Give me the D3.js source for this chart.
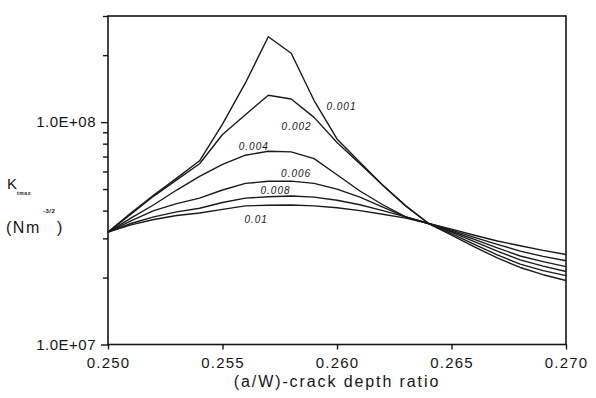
<!DOCTYPE html>
<html>
<head>
<meta charset="utf-8">
<script src="https://d3js.org/d3.v7.min.js"></script>
<style>
  body { margin: 0; background: #fff; }
  text { font-family: "Liberation Sans", Arial, sans-serif; fill: #161616; }
</style>
</head>
<body>
<div id="chart"></div>
<script>
// crack depth ratio (a/W) where the curves are sampled
var ratio = [0.250, 0.251, 0.252, 0.253, 0.254, 0.255, 0.256, 0.257, 0.258, 0.259, 0.260,
             0.261, 0.262, 0.263, 0.264, 0.265, 0.266, 0.267, 0.268, 0.269, 0.270];

// K tmax (Nm^-3/2), one array per curve
var k001 = [3.2e7, 3.9e7, 4.7e7, 5.6e7, 6.7e7, 9.8e7, 1.5e8, 2.42e8, 2.04e8, 1.25e8, 8.4e7,
            6.6e7, 5.2e7, 4.2e7, 3.5e7, 3.1e7, 2.75e7, 2.45e7, 2.22e7, 2.06e7, 1.94e7];
var k002 = [3.2e7, 3.85e7, 4.65e7, 5.5e7, 6.5e7, 8.8e7, 1.08e8, 1.32e8, 1.27e8, 1.05e8, 8.1e7,
            6.5e7, 5.2e7, 4.2e7, 3.5e7, 3.15e7, 2.82e7, 2.53e7, 2.3e7, 2.15e7, 2.04e7];
var k004 = [3.2e7, 3.7e7, 4.25e7, 4.95e7, 5.7e7, 6.45e7, 7.1e7, 7.4e7, 7.35e7, 6.85e7, 5.8e7,
            4.9e7, 4.25e7, 3.75e7, 3.5e7, 3.2e7, 2.9e7, 2.63e7, 2.4e7, 2.25e7, 2.13e7];
var k006 = [3.2e7, 3.6e7, 4.0e7, 4.3e7, 4.55e7, 4.95e7, 5.3e7, 5.42e7, 5.43e7, 5.3e7, 5.0e7,
            4.6e7, 4.15e7, 3.75e7, 3.5e7, 3.23e7, 2.97e7, 2.72e7, 2.5e7, 2.36e7, 2.24e7];
var k008 = [3.2e7, 3.5e7, 3.75e7, 3.95e7, 4.1e7, 4.35e7, 4.55e7, 4.62e7, 4.65e7, 4.6e7, 4.45e7,
            4.25e7, 4.0e7, 3.75e7, 3.5e7, 3.27e7, 3.03e7, 2.82e7, 2.63e7, 2.49e7, 2.38e7];
var k010 = [3.2e7, 3.45e7, 3.65e7, 3.8e7, 3.9e7, 4.05e7, 4.2e7, 4.23e7, 4.24e7, 4.2e7, 4.12e7,
            4.0e7, 3.85e7, 3.7e7, 3.5e7, 3.3e7, 3.1e7, 2.92e7, 2.78e7, 2.65e7, 2.54e7];

// curve labels and where they sit (data coords, left end of baseline)
var curveNames = ["0.001", "0.002", "0.004", "0.006", "0.008", "0.01"];
var labelX = [0.25954, 0.25758, 0.25571, 0.25756, 0.25666, 0.25596];
var labelY = [1.13e8, 9.2e7, 7.5e7, 5.69e7, 4.74e7, 3.53e7];

var xTicks = [0.250, 0.255, 0.260, 0.265, 0.270];
var yTicks = [1e7, 2e7, 3e7, 4e7, 5e7, 6e7, 7e7, 8e7, 9e7, 1e8, 2e8, 3e8];

var curves = [k001, k002, k004, k006, k008, k010];

// set the dimensions and margins of the graph
var margin = {top: 16, right: 30, bottom: 53.5, left: 108},
    width = 596 - margin.left - margin.right,
    height = 398 - margin.top - margin.bottom;

var root = d3.select("#chart")
  .append("svg")
    .attr("width", 596)
    .attr("height", 398);

var svg = root.append("g")
    .attr("transform", "translate(" + margin.left + "," + margin.top + ")");

var x = d3.scaleLinear()
    .domain([0.250, 0.270])
    .range([0, width]);

var y = d3.scaleLog()
    .domain([1e7, 3e8])
    .range([height, 0]);

function isDecade(d) {
  var e = Math.log10(d);
  return Math.abs(e - Math.round(e)) < 1e-9;
}

// y axis, log ticks, labels only on decades
var yAxis = svg.append("g")
    .call(d3.axisLeft(y)
      .tickValues(yTicks)
      .tickSize(5)
      .tickSizeOuter(0)
      .tickFormat(function(d) {
        return isDecade(d) ? "1.0E+0" + Math.round(Math.log10(d)) : "";
      }));
yAxis.select(".domain").remove();
yAxis.selectAll(".tick line")
    .attr("stroke", "#161616")
    .attr("stroke-width", 1.4)
    .attr("x2", function(d) { return isDecade(d) ? -7 : -5; });
yAxis.selectAll(".tick text")
    .attr("x", -12)
    .style("font-size", "15px")
    .style("letter-spacing", "0.5px");

// x axis
var xAxis = svg.append("g")
    .attr("transform", "translate(0," + height + ")")
    .call(d3.axisBottom(x)
      .tickValues(xTicks)
      .tickSize(5)
      .tickSizeOuter(0)
      .tickFormat(d3.format(".3f")));
xAxis.select(".domain").remove();
xAxis.selectAll(".tick line")
    .attr("stroke", "#161616")
    .attr("stroke-width", 1.4);
xAxis.selectAll(".tick text")
    .attr("y", 23)
    .attr("dy", null)
    .style("font-size", "15px")
    .style("letter-spacing", "1.2px");

// frame
svg.append("rect")
    .attr("width", width)
    .attr("height", height)
    .attr("fill", "none")
    .attr("stroke", "#161616")
    .attr("stroke-width", 1.6);

// the curves
var line = d3.line()
    .x(function(d, i) { return x(ratio[i]); })
    .y(function(d) { return y(d); });

svg.append("g")
  .selectAll("path")
  .data(curves)
  .enter()
  .append("path")
    .attr("d", line)
    .attr("fill", "none")
    .attr("stroke", "#1a1a1a")
    .attr("stroke-width", 1.4)
    .attr("stroke-linejoin", "round");

// curve labels
svg.append("g")
  .selectAll("text")
  .data(curveNames)
  .enter()
  .append("text")
    .attr("x", function(d, i) { return x(labelX[i]); })
    .attr("y", function(d, i) { return y(labelY[i]); })
    .text(function(d) { return d; })
    .style("font-size", "10px")
    .style("font-style", "italic")
    .style("letter-spacing", "1px");

// x axis title
root.append("text")
    .attr("x", margin.left + width / 2)
    .attr("y", 387)
    .attr("text-anchor", "middle")
    .style("font-size", "16px")
    .style("letter-spacing", "1.9px")
    .text("(a/W)-crack depth ratio");

// y axis title, K tmax (Nm^-3/2)
root.append("text")
    .attr("x", 7)
    .attr("y", 189)
    .style("font-size", "15px")
    .text("K");
root.append("text")
    .attr("x", 17)
    .attr("y", 195)
    .style("font-size", "5px")
    .style("font-weight", "bold")
    .style("letter-spacing", "0.6px")
    .text("tmax");
root.append("text")
    .attr("x", 6)
    .attr("y", 233)
    .style("font-size", "16px")
    .style("letter-spacing", "1.5px")
    .text("(Nm");
root.append("text")
    .attr("x", 43)
    .attr("y", 213)
    .style("font-size", "6px")
    .style("font-weight", "bold")
    .style("letter-spacing", "0.5px")
    .text("-3/2");
root.append("text")
    .attr("x", 57)
    .attr("y", 233)
    .style("font-size", "16px")
    .text(")");
</script>
</body>
</html>
